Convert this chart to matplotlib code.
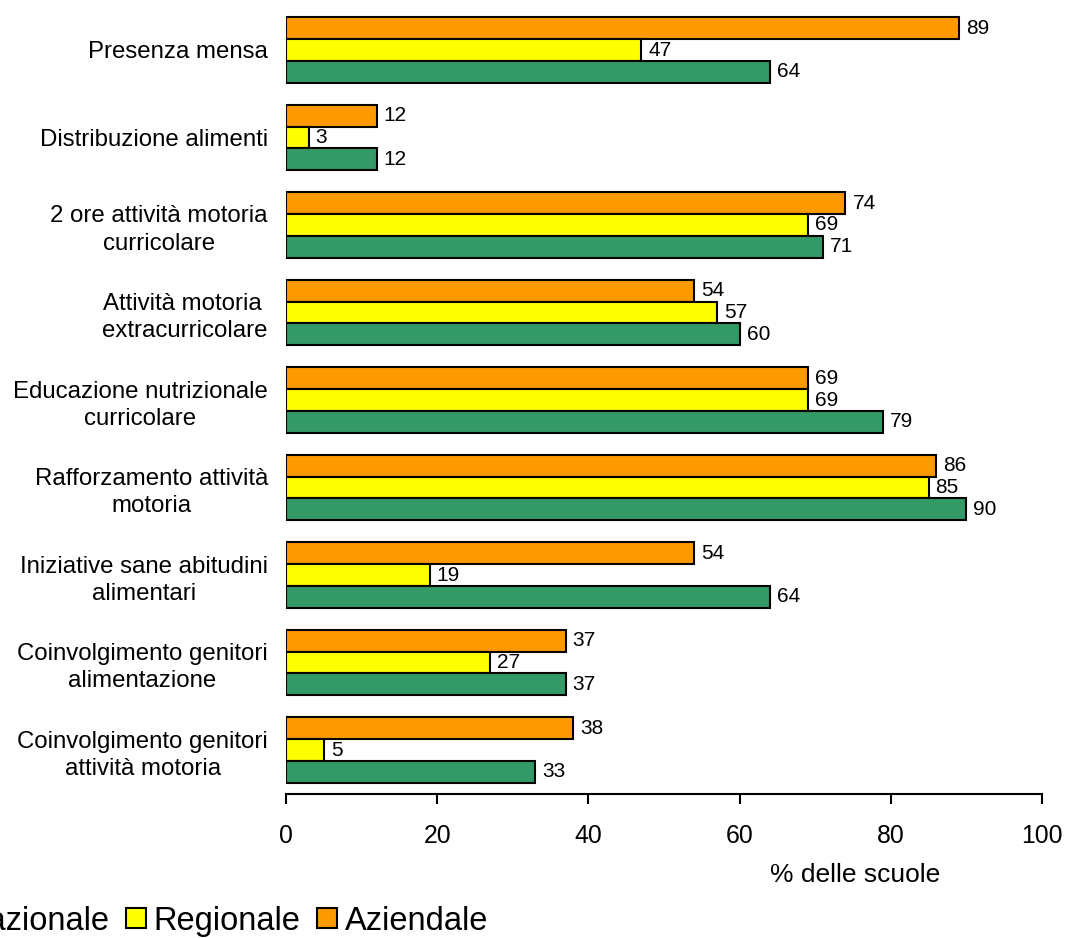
import matplotlib
matplotlib.use("Agg")
import matplotlib.pyplot as plt
from matplotlib.patches import Patch
import numpy as np

plt.rcParams['font.family'] = ['Liberation Sans', 'DejaVu Sans']

categories = [
    "Presenza mensa",
    "Distribuzione alimenti",
    "2 ore attività motoria\ncurricolare",
    "Attività motoria \nextracurricolare",
    "Educazione nutrizionale\ncurricolare",
    "Rafforzamento attività\nmotoria",
    "Iniziative sane abitudini\nalimentari",
    "Coinvolgimento genitori\nalimentazione",
    "Coinvolgimento genitori\nattività motoria",
]
aziendale = [89, 12, 74, 54, 69, 86, 54, 37, 38]
regionale = [47, 3, 69, 57, 69, 85, 19, 27, 5]
nazionale = [64, 12, 71, 60, 79, 90, 64, 37, 33]
series_names = ["Nazionale", "Regionale", "Aziendale"]
colors = {"Nazionale": "#339966", "Regionale": "#FFFF00", "Aziendale": "#FF9900"}
xticks = [0, 20, 40, 60, 80, 100]

W, H = 1065, 938
fig = plt.figure(figsize=(W / 100, H / 100), dpi=100)
ax = fig.add_axes([286 / W, (H - 793.75) / H, (1042 - 286) / W, 787.5 / H])

y = np.arange(len(categories))
h = 0.25
data = {"Aziendale": (aziendale, -h), "Regionale": (regionale, 0.0), "Nazionale": (nazionale, h)}
for name in ["Aziendale", "Regionale", "Nazionale"]:
    vals, off = data[name]
    bars = ax.barh(y + off, vals, height=h, color=colors[name], edgecolor="black",
                   linewidth=1.5, zorder=2)
    ax.bar_label(bars, labels=[str(v) for v in vals], padding=5, fontsize=15,
                 bbox=dict(facecolor="white", edgecolor="none", pad=0), zorder=1)

ax.set_ylim(len(categories) - 0.5, -0.5)
ax.set_xlim(0, 100)
ax.set_yticks(y)
ax.set_yticklabels(categories, fontsize=17.3, ha="right", multialignment="center",
                   linespacing=1.3)
ax.tick_params(axis="y", length=0, pad=13)
ax.set_xticks(xticks)
ax.set_xticklabels([str(t) for t in xticks], fontsize=17.8)
ax.tick_params(axis="x", length=7, width=1.5, pad=14.5, direction="out")
for s in ["top", "right", "left"]:
    ax.spines[s].set_visible(False)
ax.spines["bottom"].set_linewidth(1.5)

ax.set_xlabel("% delle scuole", fontsize=19)
ax.xaxis.set_label_coords(0.753, -0.088)

handles = [Patch(facecolor=colors[n], edgecolor="black", linewidth=1.5) for n in series_names]
fig.legend(handles, series_names, ncol=3, loc="center left",
           bbox_to_anchor=(-63 / W, 1 - 921 / H), frameon=False, fontsize=23.5,
           handlelength=0.6, handleheight=0.6, handletextpad=0.25, columnspacing=0.5,
           borderpad=0, borderaxespad=0)

fig.savefig("out.png", dpi=100)
